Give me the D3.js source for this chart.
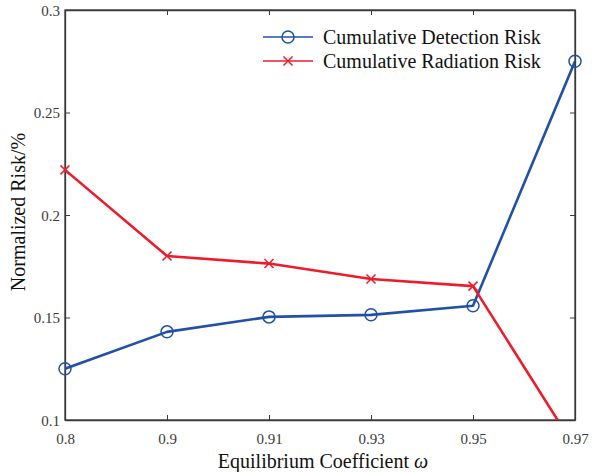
<!DOCTYPE html>
<html>
<head>
<meta charset="utf-8">
<script src="https://cdn.jsdelivr.net/npm/d3@7"></script>
</head>
<body style="margin:0;background:#fff">
<svg id="chart" width="594" height="472"></svg>
<script>
// Equilibrium coefficient values (categorical, evenly spaced)
const categories = ["0.8", "0.9", "0.91", "0.93", "0.95", "0.97"];
// Normalized cumulative risk per coefficient
const detectionRisk = [0.125, 0.143, 0.1503, 0.1513, 0.1557, 0.275];
const radiationRisk = [0.222, 0.180, 0.1763, 0.1688, 0.1653, 0.0866];
const yTicks = [0.1, 0.15, 0.2, 0.25, 0.3];
const seriesNames = ["Cumulative Detection Risk", "Cumulative Radiation Risk"];

const FONT = '"Liberation Serif"';

const svg = d3.select("#chart");
const margin = { left: 65, right: 19, top: 10, bottom: 52 };
const W = 594, H = 472;
const innerW = W - margin.left - margin.right;
const innerH = H - margin.top - margin.bottom;

const x = d3.scalePoint().domain(categories).range([0, innerW]);
const y = d3.scaleLinear().domain([0.1, 0.3]).range([innerH, 0]);

const g = svg.append("g").attr("transform", `translate(${margin.left},${margin.top})`);

svg.append("defs").append("clipPath").attr("id", "plotclip")
  .append("rect").attr("x", 0).attr("y", 0).attr("width", innerW).attr("height", innerH);

const axisColor = "#3a3a3a";
const labelColor = "#3a3a3a";

// Box frame
g.append("rect").attr("x", 0).attr("y", 0).attr("width", innerW).attr("height", innerH)
  .attr("fill", "none").attr("stroke", axisColor).attr("stroke-width", 1.3);

// Axes with inward ticks
const fmt = d => d3.format("~g")(d);
const xAxis = g.append("g").attr("transform", `translate(0,${innerH})`)
  .call(d3.axisBottom(x).tickSizeInner(-5).tickSizeOuter(0));
const xTop = g.append("g")
  .call(d3.axisTop(x).tickSizeInner(-5).tickSizeOuter(0).tickFormat(""));
const yAxis = g.append("g")
  .call(d3.axisLeft(y).tickValues(yTicks).tickFormat(fmt).tickSizeInner(-5).tickSizeOuter(0));
const yRight = g.append("g").attr("transform", `translate(${innerW},0)`)
  .call(d3.axisRight(y).tickValues(yTicks).tickFormat("").tickSizeInner(-5).tickSizeOuter(0));

[xAxis, xTop, yAxis, yRight].forEach(a => {
  a.select(".domain").attr("stroke", axisColor).attr("stroke-width", 1.3);
  a.selectAll(".tick line").attr("stroke", axisColor).attr("stroke-width", 1);
  a.selectAll(".tick text").attr("fill", labelColor).attr("font-size", 15)
    .style("font-family", FONT);
});
xAxis.selectAll(".tick text").attr("x", 0).attr("y", 24).attr("dy", null);
yAxis.selectAll(".tick text").attr("x", -5).attr("dy", "0.34em");

// Axis titles
const xTitle = svg.append("text")
  .attr("x", margin.left + innerW / 2 + 3).attr("y", 468)
  .attr("text-anchor", "middle").attr("fill", "#111").attr("font-size", 20)
  .style("font-family", FONT);
xTitle.append("tspan").text("Equilibrium Coefficient ");
xTitle.append("tspan").style("font-style", "italic").text("ω");

svg.append("text")
  .attr("transform", `translate(25,${margin.top + innerH / 2 - 3}) rotate(-90)`)
  .attr("text-anchor", "middle").attr("fill", "#111").attr("font-size", 20)
  .style("font-family", FONT)
  .text("Normalized Risk/%");

const blue = "#2150a6";
const red = "#ee1c2b";

const line = d3.line().x((d, i) => x(categories[i])).y(d => y(d));
const plot = g.append("g").attr("clip-path", "url(#plotclip)");

plot.append("path").datum(detectionRisk).attr("d", line)
  .attr("fill", "none").attr("stroke", blue).attr("stroke-width", 2.6).attr("stroke-linejoin", "round");
plot.append("path").datum(radiationRisk).attr("d", line)
  .attr("fill", "none").attr("stroke", red).attr("stroke-width", 2.6).attr("stroke-linejoin", "round");

// Markers
function drawCircle(sel, cx, cy) {
  sel.append("circle").attr("cx", cx).attr("cy", cy).attr("r", 6)
    .attr("fill", "none").attr("stroke", blue).attr("stroke-width", 1.5);
}
function drawCross(sel, cx, cy) {
  const s = 4.5;
  sel.append("path")
    .attr("d", `M${cx - s},${cy - s}L${cx + s},${cy + s}M${cx - s},${cy + s}L${cx + s},${cy - s}`)
    .attr("stroke", red).attr("stroke-width", 1.5).attr("fill", "none");
}
const markers = g.append("g");
detectionRisk.forEach((v, i) => drawCircle(markers, x(categories[i]), y(v)));
radiationRisk.forEach((v, i) => {
  if (v >= y.domain()[0]) drawCross(markers, x(categories[i]), y(v));
});

// Legend
const legend = svg.append("g");
const legendRows = [
  { name: seriesNames[0], color: blue, mark: drawCircle, yy: 37 },
  { name: seriesNames[1], color: red, mark: drawCross, yy: 61 }
];
legendRows.forEach(r => {
  legend.append("line").attr("x1", 263).attr("x2", 313).attr("y1", r.yy).attr("y2", r.yy)
    .attr("stroke", r.color).attr("stroke-width", 1.6);
  r.mark(legend, 288, r.yy);
  legend.append("text").attr("x", 323).attr("y", r.yy + 7)
    .attr("fill", "#111").attr("font-size", 20)
    .style("font-family", FONT).text(r.name);
});
</script>
</body>
</html>
